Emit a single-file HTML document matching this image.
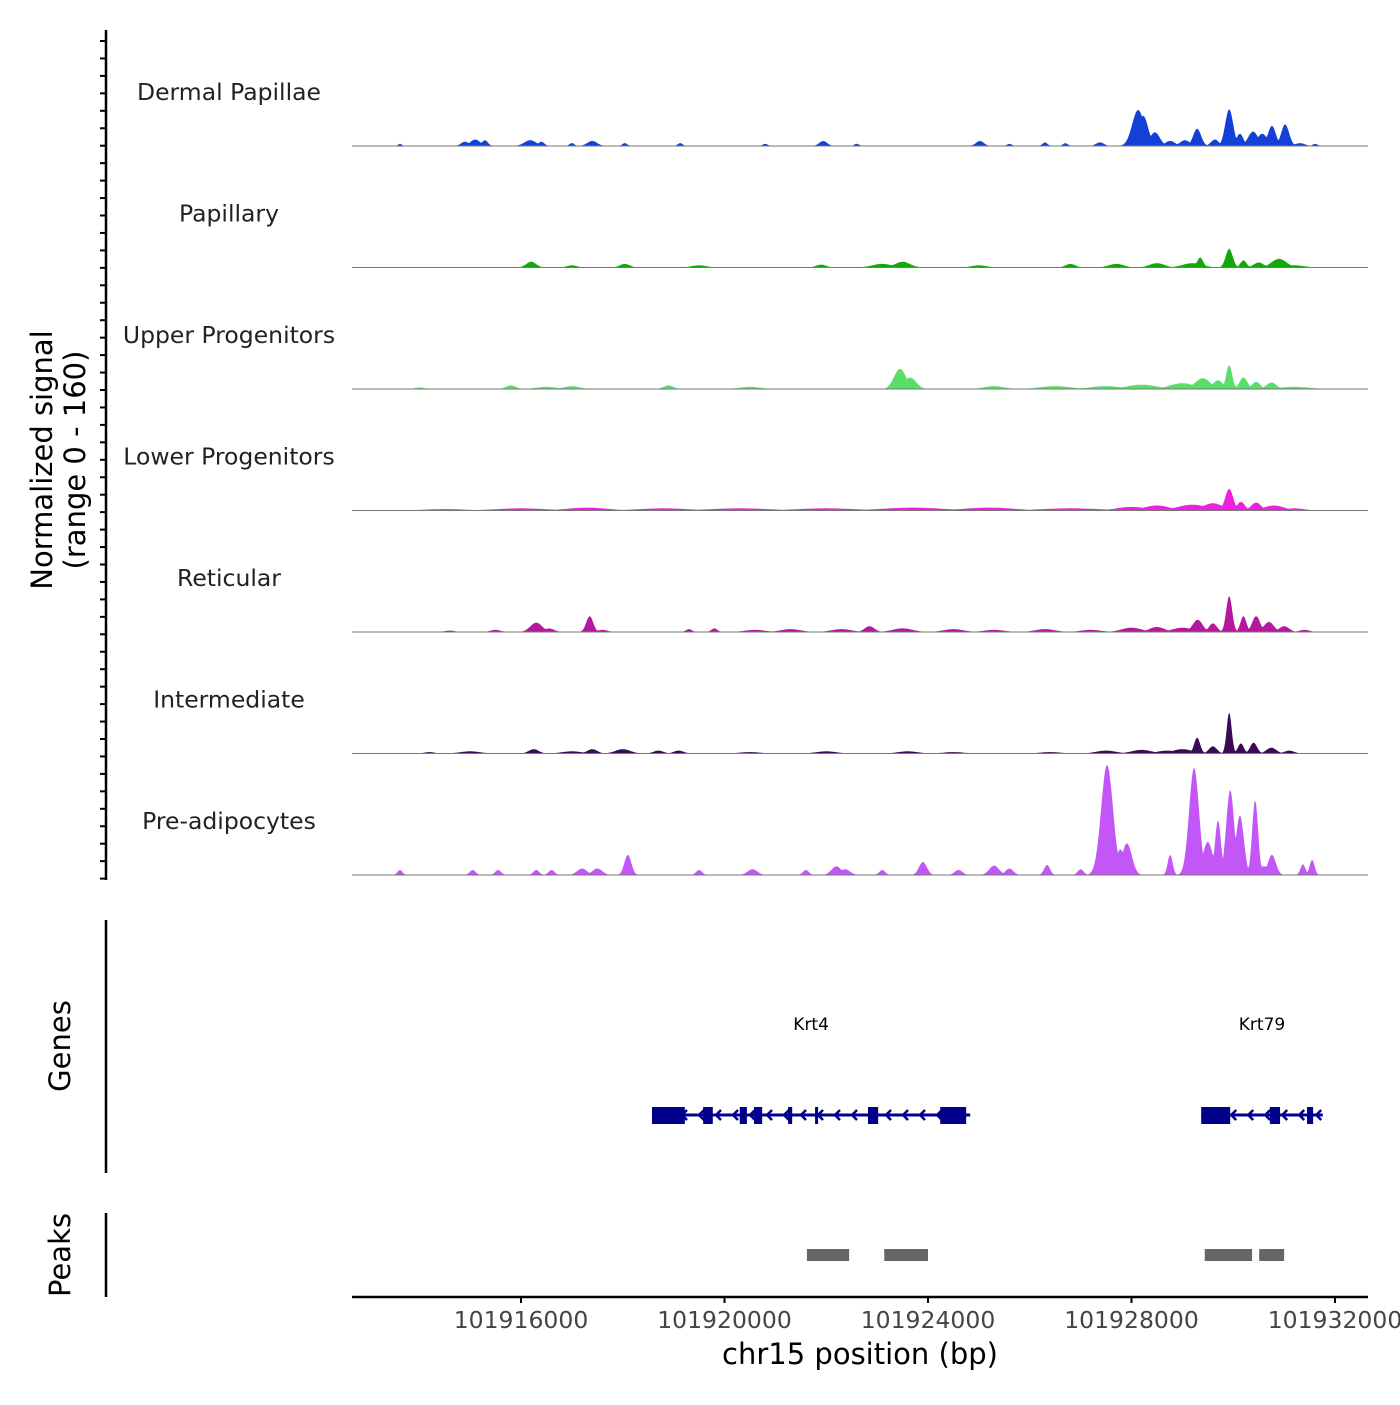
<!DOCTYPE html>
<html><head><meta charset="utf-8"><style>
body{margin:0;background:#fff}
svg text{font-family:"DejaVu Sans","Liberation Sans",sans-serif}
</style></head><body>
<svg id="chart" width="1400" height="1400" xmlns="http://www.w3.org/2000/svg"></svg>
<script>
// ---- data (positions in kb, signal 0-160) ----
const trackNames = ["Dermal Papillae","Papillary","Upper Progenitors","Lower Progenitors","Reticular","Intermediate","Pre-adipocytes"];
const trackColors = ["#1440d8","#13a80a","#5ade6a","#ee1fe0","#b5179e","#3a0a52","#c356f6"];
// peaks: [positionKb, value, halfWidthKb]
const peaksDP = [[101913.62,3,0.04],[101914.9,6,0.08],[101915.1,9,0.1],[101915.29,8,0.06],[101916.18,8,0.12],[101916.4,6,0.06],[101917.0,4,0.05],[101917.4,7,0.1],[101918.04,4,0.05],[101919.13,4,0.05],[101920.8,3,0.05],[101921.94,7,0.08],[101922.6,3,0.05],[101925.02,7,0.08],[101925.6,3,0.05],[101926.3,5,0.05],[101926.7,4,0.05],[101927.38,5,0.08],[101928.13,50,0.12],[101928.23,42,0.1],[101928.46,19,0.1],[101928.76,7,0.1],[101929.05,8,0.1],[101929.29,24,0.08],[101929.64,9,0.08],[101929.92,51,0.08],[101930.13,17,0.07],[101930.39,20,0.1],[101930.57,17,0.1],[101930.76,28,0.08],[101931.02,30,0.08],[101931.31,4,0.1],[101931.61,3,0.05]];
const peaksPap = [[101916.2,8,0.1],[101917.0,3,0.1],[101918.04,5,0.1],[101919.5,3,0.15],[101921.9,4,0.1],[101923.1,5,0.2],[101923.5,8,0.15],[101925.0,3,0.15],[101926.8,5,0.1],[101927.7,5,0.15],[101928.5,6,0.15],[101929.2,6,0.2],[101929.35,14,0.06],[101929.92,26,0.07],[101930.2,10,0.06],[101930.5,7,0.1],[101930.9,12,0.15],[101931.2,3,0.2]];
const peaksUP = [[101914.0,2,0.1],[101915.8,5,0.1],[101916.5,3,0.2],[101917.0,4,0.15],[101918.9,5,0.1],[101920.5,3,0.2],[101923.45,28,0.12],[101923.65,16,0.12],[101925.3,4,0.2],[101926.5,4,0.3],[101927.5,4,0.3],[101928.2,6,0.3],[101929.0,8,0.25],[101929.4,15,0.15],[101929.7,12,0.1],[101929.92,33,0.06],[101930.2,16,0.08],[101930.45,10,0.08],[101930.75,9,0.1],[101931.2,3,0.3]];
const peaksLP = [[101914.5,2,0.4],[101916.0,3,0.5],[101917.3,4,0.4],[101918.8,3,0.5],[101920.3,3,0.6],[101922.0,3,0.6],[101923.7,4,0.6],[101925.2,4,0.5],[101926.8,3,0.6],[101928.0,5,0.3],[101928.5,7,0.25],[101929.2,8,0.3],[101929.6,10,0.2],[101929.92,30,0.08],[101930.15,12,0.08],[101930.45,11,0.1],[101930.8,7,0.2],[101931.2,3,0.2]];
const peaksRet = [[101914.6,2,0.1],[101915.5,3,0.1],[101916.3,13,0.12],[101916.55,5,0.1],[101917.35,22,0.07],[101917.6,3,0.1],[101919.3,4,0.06],[101919.8,5,0.06],[101920.6,3,0.2],[101921.3,4,0.2],[101922.3,4,0.2],[101922.85,8,0.1],[101923.5,5,0.2],[101924.5,4,0.2],[101925.3,3,0.2],[101926.3,4,0.2],[101927.2,3,0.2],[101928.0,6,0.2],[101928.5,7,0.15],[101929.0,6,0.2],[101929.3,17,0.1],[101929.6,12,0.08],[101929.92,50,0.06],[101930.2,22,0.06],[101930.45,22,0.08],[101930.7,14,0.1],[101931.0,8,0.1],[101931.4,3,0.1]];
const peaksInt = [[101914.2,2,0.1],[101915.0,3,0.2],[101916.25,6,0.1],[101917.0,3,0.2],[101917.4,6,0.1],[101918.0,6,0.15],[101918.7,4,0.1],[101919.1,4,0.1],[101920.5,2,0.2],[101922.0,3,0.2],[101923.6,3,0.2],[101924.5,2,0.2],[101926.4,2,0.2],[101927.5,4,0.2],[101928.2,5,0.2],[101928.7,4,0.2],[101929.0,6,0.2],[101929.29,22,0.06],[101929.6,10,0.08],[101929.92,57,0.05],[101930.15,14,0.06],[101930.4,15,0.07],[101930.75,8,0.1],[101931.1,4,0.1]];
const peaksPA = [[101913.62,7,0.05],[101915.05,7,0.06],[101915.55,7,0.06],[101916.3,7,0.06],[101916.6,7,0.06],[101917.2,9,0.1],[101917.5,9,0.1],[101918.1,28,0.07],[101919.5,7,0.06],[101920.55,8,0.1],[101921.6,7,0.06],[101922.2,12,0.1],[101922.37,8,0.1],[101923.1,7,0.06],[101923.9,18,0.08],[101924.6,7,0.08],[101925.3,13,0.1],[101925.6,9,0.08],[101926.34,14,0.06],[101927.0,8,0.06],[101927.3,11,0.06],[101927.52,153,0.12],[101927.91,44,0.1],[101927.78,36,0.08],[101928.76,28,0.05],[101929.23,149,0.1],[101929.5,46,0.1],[101929.7,76,0.06],[101929.94,118,0.08],[101930.13,83,0.08],[101930.43,104,0.06],[101930.6,12,0.15],[101930.76,28,0.08],[101931.37,15,0.05],[101931.55,21,0.05]];
const allPeaks = [peaksDP,peaksPap,peaksUP,peaksLP,peaksRet,peaksInt,peaksPA];
const geneNames = ["Krt4","Krt79"];
const geneSpans = [[101918.575,101924.83],[101929.37,101931.76]];
const geneExons = [[[101918.575,101919.22],[101919.58,101919.77],[101920.30,101920.44],[101920.58,101920.74],[101921.25,101921.33],[101921.78,101921.84],[101922.82,101923.02],[101924.24,101924.75]],[[101929.37,101929.94],[101930.72,101930.92],[101931.45,101931.57]]];
const peakRegions = [[101921.62,101922.45],[101923.14,101924.0],[101929.44,101930.37],[101930.51,101931.0]];
const xTicks = [101916000,101920000,101924000,101928000,101932000];

const NS="http://www.w3.org/2000/svg";
const svg=document.getElementById('chart');
function el(t,a,p){const e=document.createElementNS(NS,t);for(const k in a)e.setAttribute(k,a[k]);(p||svg).appendChild(e);return e;}
const xKb=kb=>521+(kb-101916)*203.5/4;
const yVal=(base,v)=>base-v*0.72;
const x0=352,x1=1368;

allPeaks.forEach((pk,i)=>{
  const base=146+i*121.5;
  const g=el('g',{});
  
  
  let d='M'+x0+','+base;
  for(let x=x0;x<=x1;x+=1){
    const kb=101916+(x-521)*4/203.5;
    let v=0;
    pk.forEach(p=>{const dd=Math.abs(kb-p[0])/(p[2]*1.3);if(dd<2.5){const b=p[1]*Math.exp(-dd*dd*0.9);if(b>v)v=b;}});
    d+='L'+x+','+yVal(base,v).toFixed(1);
  }
  d+='L'+x1+','+base+'Z';
  const a=el('path',{d:d,fill:trackColors[i]},g);
  
  
  el('line',{x1:x0,x2:x1,y1:base,y2:base,stroke:'#777','stroke-width':1},g);
  const t=el('text',{x:229,y:base-46,'font-size':23.5,'text-anchor':'middle',fill:'#222'},g);
  t.textContent=trackNames[i];
  
  
});

const ax=el('g',{});


el('line',{x1:106,x2:106,y1:30,y2:880,stroke:'#000','stroke-width':2.5},ax);
for(let y=41;y<=880;y+=17.45) el('line',{x1:100,x2:106,y1:y,y2:y,stroke:'#000','stroke-width':2},ax);
const yt=el('text',{transform:'translate(52,460) rotate(-90)','font-size':29,'text-anchor':'middle',fill:'#000'});


yt.innerHTML='<tspan x="0" dy="0">Normalized signal</tspan><tspan x="0" dy="33">(range 0 - 160)</tspan>';

el('line',{x1:106,x2:106,y1:920,y2:1173,stroke:'#000','stroke-width':2.5});
const gt=el('text',{transform:'translate(70,1046) rotate(-90)','font-size':29,'text-anchor':'middle'});
gt.textContent='Genes';


geneSpans.forEach((s,i)=>{
  const g=el('g',{});
  
  
  const xa=xKb(s[0]),xb=xKb(s[1]);
  el('line',{x1:xa,x2:xb,y1:1115,y2:1115,stroke:'#00008b','stroke-width':3},g);
  for(let x=xa+30;x<xb-5;x+=17){el('polyline',{points:(x+5)+',1110 '+x+',1115 '+(x+5)+',1120',fill:'none',stroke:'#00008b','stroke-width':2.5},g);}
  geneExons[i].forEach(e=>el('rect',{x:xKb(e[0]),y:1107,width:xKb(e[1])-xKb(e[0]),height:17,fill:'#00008b'},g));
  const lt=el('text',{x:(xa+xb)/2,y:1030,'font-size':17,'text-anchor':'middle'},g);
  lt.textContent=geneNames[i];
});

el('line',{x1:106,x2:106,y1:1213,y2:1297,stroke:'#000','stroke-width':2.5});
const pt=el('text',{transform:'translate(70,1255) rotate(-90)','font-size':29,'text-anchor':'middle'});
pt.textContent='Peaks';


peakRegions.forEach(p=>{
  const r=el('rect',{x:xKb(p[0]),y:1249,width:xKb(p[1])-xKb(p[0]),height:12,fill:'#666'});
  
  
});

const xa=el('g',{});


el('line',{x1:352,x2:1368,y1:1297,y2:1297,stroke:'#000','stroke-width':2.5},xa);
xTicks.forEach(t=>{
  const x=xKb(t/1000);
  el('line',{x1:x,x2:x,y1:1297,y2:1303,stroke:'#000','stroke-width':2},xa);
  const tx=el('text',{x:x,y:1328,'font-size':23.5,'text-anchor':'middle',fill:'#444'},xa);
  tx.textContent=t;
});
const xt=el('text',{x:860,y:1364,'font-size':29,'text-anchor':'middle'});
xt.textContent='chr15 position (bp)';


</script>
</body></html>
